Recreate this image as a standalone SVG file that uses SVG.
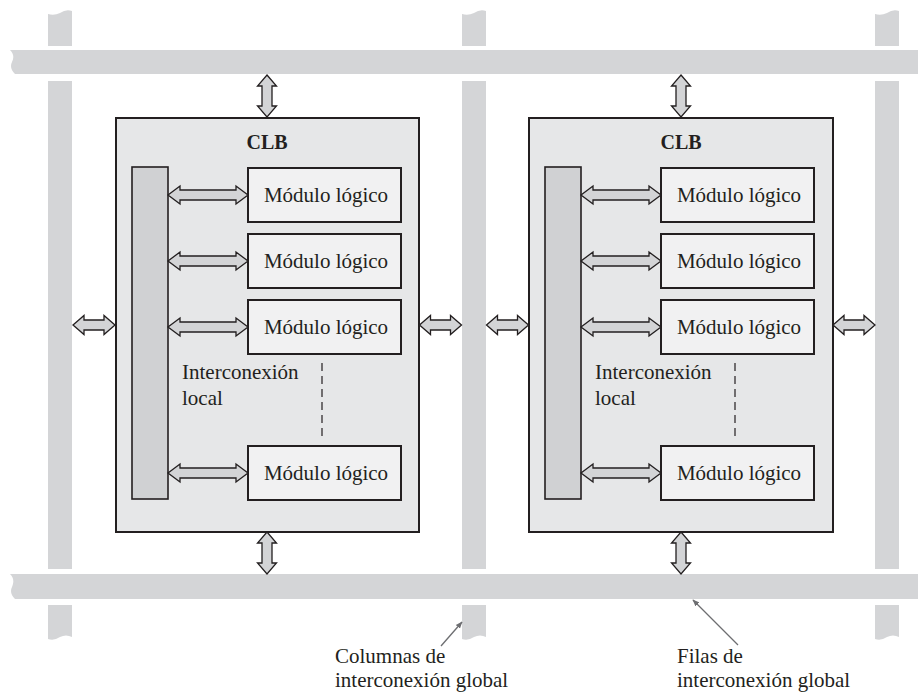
<svg xmlns="http://www.w3.org/2000/svg" xmlns:xlink="http://www.w3.org/1999/xlink" width="918" height="693" viewBox="0 0 918 693">
<style>
.bus{fill:#d4d5d7;stroke:none}
.clb{fill:#e6e7e8;stroke:#231f20;stroke-width:2}
.mod{fill:#f1f1f2;stroke:#231f20;stroke-width:2}
.loc{fill:#d0d1d3;stroke:#231f20;stroke-width:1.6}
.arr{fill:#d3d4d6;stroke:#231f20;stroke-width:1.3;stroke-linejoin:miter}
.t{font-family:"Liberation Serif","Times New Roman",serif;font-size:21px;fill:#231f20}
.b{font-family:"Liberation Serif","Times New Roman",serif;font-size:20px;font-weight:bold;fill:#231f20}
.dash{stroke:#231f20;stroke-width:1.2;stroke-dasharray:8,5;fill:none}
.lead{stroke:#6d6e71;stroke-width:1.3;fill:none}
</style>
<defs>
<path id="a80" d="M-40,0 L-28,-9 L-28,-5 L28,-5 L28,-9 L40,0 L28,9 L28,5 L-28,5 L-28,9 Z"/>
<path id="a42" d="M-21,0 L-10,-9.5 L-10,-5 L10,-5 L10,-9.5 L21,0 L10,9.5 L10,5 L-10,5 L-10,9.5 Z"/>
<marker id="mh" viewBox="0 0 10 10" refX="9" refY="5" markerWidth="7" markerHeight="7" orient="auto" markerUnits="userSpaceOnUse">
<path d="M0,1 L10,5 L0,9 Z" fill="#6d6e71"/>
</marker>
</defs>

<g id="global-interconnect">
<!-- rows -->
<path class="bus" d="M10,50 H918 V74 H15 C11,70 10,66 12,62 C14,58 14,54 10,50 Z"/>
<path class="bus" d="M10,574 H918 V599 H15 C11,595 10,591 12,587 C14,582 14,578 10,574 Z"/>
<!-- columns -->
<path class="bus" d="M48,14 Q54,16 60,13 Q66,9 72,11 V46 H48 Z"/>
<rect class="bus" x="48" y="81" width="24" height="488"/>
<path class="bus" d="M48,605 H72 V637 Q66,634 60,637 Q54,641 48,639 Z"/>
<path class="bus" d="M462,14 Q468,16 474,13 Q480,9 486,11 V46 H462 Z"/>
<rect class="bus" x="462" y="81" width="24" height="488"/>
<path class="bus" d="M462,605 H486 V637 Q480,634 474,637 Q468,641 462,639 Z"/>
<path class="bus" d="M875,14 Q881,16 887,13 Q893,9 899,11 V46 H875 Z"/>
<rect class="bus" x="875" y="81" width="24" height="488"/>
<path class="bus" d="M875,605 H899 V637 Q893,634 887,637 Q881,641 875,639 Z"/>
</g>

<g id="clb1">
<rect class="clb" x="116" y="118" width="303" height="414"/>
<text class="b" x="267" y="149" text-anchor="middle">CLB</text>
<rect class="loc" x="132" y="167" width="36" height="332"/>
<rect class="mod" x="248" y="168" width="153" height="54"/>
<text class="t" x="326" y="202" text-anchor="middle">Módulo lógico</text>
<rect class="mod" x="248" y="234" width="153" height="54"/>
<text class="t" x="326" y="268" text-anchor="middle">Módulo lógico</text>
<rect class="mod" x="248" y="300" width="153" height="54"/>
<text class="t" x="326" y="334" text-anchor="middle">Módulo lógico</text>
<rect class="mod" x="248" y="446" width="153" height="54"/>
<text class="t" x="326" y="480" text-anchor="middle">Módulo lógico</text>
<text class="t" x="182" y="379">Interconexión</text>
<text class="t" x="182" y="405">local</text>
<line class="dash" x1="322" y1="363" x2="322" y2="438"/>
</g>

<g id="clb2">
<rect class="clb" x="529" y="118" width="304" height="414"/>
<text class="b" x="681" y="149" text-anchor="middle">CLB</text>
<rect class="loc" x="545" y="167" width="36" height="332"/>
<rect class="mod" x="661" y="168" width="153" height="54"/>
<text class="t" x="739" y="202" text-anchor="middle">Módulo lógico</text>
<rect class="mod" x="661" y="234" width="153" height="54"/>
<text class="t" x="739" y="268" text-anchor="middle">Módulo lógico</text>
<rect class="mod" x="661" y="300" width="153" height="54"/>
<text class="t" x="739" y="334" text-anchor="middle">Módulo lógico</text>
<rect class="mod" x="661" y="446" width="153" height="54"/>
<text class="t" x="739" y="480" text-anchor="middle">Módulo lógico</text>
<text class="t" x="595" y="379">Interconexión</text>
<text class="t" x="595" y="405">local</text>
<line class="dash" x1="735" y1="363" x2="735" y2="438"/>
</g>

<g id="connectors">
<!-- internal CLB1 -->
<use xlink:href="#a80" class="arr" transform="translate(208,195)"/>
<use xlink:href="#a80" class="arr" transform="translate(208,261)"/>
<use xlink:href="#a80" class="arr" transform="translate(208,327)"/>
<use xlink:href="#a80" class="arr" transform="translate(208,473)"/>
<!-- internal CLB2 -->
<use xlink:href="#a80" class="arr" transform="translate(621,195)"/>
<use xlink:href="#a80" class="arr" transform="translate(621,261)"/>
<use xlink:href="#a80" class="arr" transform="translate(621,327)"/>
<use xlink:href="#a80" class="arr" transform="translate(621,473)"/>
<!-- vertical -->
<use xlink:href="#a42" class="arr" transform="translate(267,96) rotate(90)"/>
<use xlink:href="#a42" class="arr" transform="translate(267,553) rotate(90)"/>
<use xlink:href="#a42" class="arr" transform="translate(681,96) rotate(90)"/>
<use xlink:href="#a42" class="arr" transform="translate(681,553) rotate(90)"/>
<!-- side -->
<use xlink:href="#a42" class="arr" transform="translate(94,325)"/>
<use xlink:href="#a42" class="arr" transform="translate(440.5,325)"/>
<use xlink:href="#a42" class="arr" transform="translate(507.5,325)"/>
<use xlink:href="#a42" class="arr" transform="translate(854,325)"/>
<!-- leaders -->
<line class="lead" x1="441" y1="646" x2="462" y2="622" marker-end="url(#mh)"/>
<line class="lead" x1="738" y1="645" x2="693" y2="600" marker-end="url(#mh)"/>
</g>

<g id="labels">
<text class="t" x="335" y="663">Columnas de</text>
<text class="t" x="335" y="687">interconexión global</text>
<text class="t" x="677" y="663">Filas de</text>
<text class="t" x="677" y="687">interconexión global</text>
</g>
</svg>
